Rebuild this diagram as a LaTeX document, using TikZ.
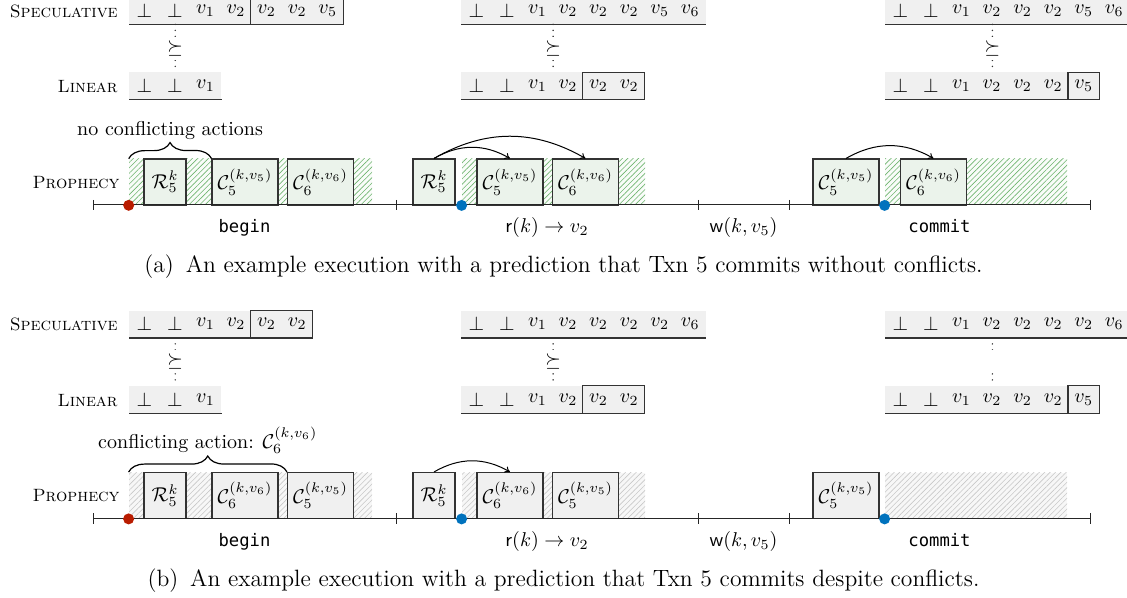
\documentclass[tikz,border=0pt]{standalone}
\usepackage{fontspec}
\setmonofont{DejaVu Sans Mono}[Scale=0.86]
\usetikzlibrary{patterns.meta,decorations.pathreplacing,arrows.meta}
\definecolor{rowgray}{RGB}{240,240,240}
\definecolor{boxgreen}{RGB}{235,243,235}
\definecolor{hatchgreen}{RGB}{110,180,110}
\definecolor{hatchbgG}{RGB}{249,252,249}
\definecolor{boxgray}{RGB}{240,240,240}
\definecolor{hatchgray}{RGB}{200,200,200}
\definecolor{hatchbgK}{RGB}{247,247,247}
\definecolor{dotred}{RGB}{185,28,0}
\definecolor{dotblue}{RGB}{0,114,189}
\newcommand\MyRow[5]{%
  \node[rowbg, minimum width=#4*15.285pt] (#1) at (#2,#3) {};
  \draw[rowline] (#1.south west) -- (#1.south east);
  \foreach \vv [count=\ii] in {#5} {\node[cell] (#1-\ii) at ([xshift={(\ii-0.5)*15.285pt}]#1.west) {$\vv$};}
}
\newcommand\MyLink[4]{%
  \draw[dotline] (#1.south -| #2.north) -- node[relsym] (#3) {#4} (#2.north);
}
\begin{document}
\begin{tikzpicture}[x=0.5pt,y=-0.5pt, font=\fontsize{10}{12}\selectfont,
  rowbg/.style={fill=rowgray, draw=none, minimum height=13.5pt, inner sep=0pt, anchor=west},
  rowline/.style={draw=black!80, line width=0.6pt},
  cell/.style={inner sep=0pt, minimum width=15.285pt, minimum height=13.5pt},
  hl/.style={draw=black!80, line width=0.55pt},
  lbl/.style={anchor=east, inner sep=0pt, font=\fontsize{8.9}{11}\selectfont},
  dotline/.style={line width=0.8pt, dash pattern=on 0pt off 3pt, line cap=round, draw=black!80},
  relsym/.style={fill=white, inner sep=2pt},
  hatchG/.style={draw=none, minimum height=23pt, inner sep=0pt, preaction={fill=hatchbgG}, pattern={Lines[angle=45,distance=1.9pt,line width=0.3pt]}, pattern color=hatchgreen},
  hatchK/.style={draw=none, minimum height=23pt, inner sep=0pt, preaction={fill=hatchbgK}, pattern={Lines[angle=45,distance=1.9pt,line width=0.3pt]}, pattern color=hatchgray},
  pboxG/.style={draw=black!80, line width=0.55pt, minimum height=23pt, inner sep=0pt, fill=boxgreen},
  pboxK/.style={draw=black!80, line width=0.55pt, minimum height=23pt, inner sep=0pt, fill=boxgray},
  rbox/.style={minimum width=21pt},
  cbox/.style={minimum width=33pt},
  tl/.style={draw=black!85, line width=0.5pt},
  tlab/.style={anchor=base, inner sep=0pt},
  pdot/.style={circle, inner sep=0pt, minimum size=5.5pt, draw=none},
  arr/.style={-{To[length=2.6pt,width=3.4pt]}, line width=0.5pt, draw=black},
  brace/.style={decorate, decoration={brace, amplitude=8pt}, line width=0.6pt, draw=black},
  captext/.style={anchor=base, inner sep=0pt, font=\fontsize{11.8}{14}\selectfont}
]
\useasboundingbox (0,0) rectangle (1127,598);

%% ================= panel (a) =================
\MyRow{sa1}{129}{10.5}{7}{\bot,\bot,v_1,v_2,v_2,v_2,v_5}
\draw[hl] (sa1-5.north west) rectangle (sa1-7.south east);
\MyRow{la1}{129}{86}{3}{\bot,\bot,v_1}
\MyRow{sa2}{461}{10.5}{8}{\bot,\bot,v_1,v_2,v_2,v_2,v_5,v_6}
\MyRow{la2}{461}{86}{6}{\bot,\bot,v_1,v_2,v_2,v_2}
\draw[hl] (la2-5.north west) rectangle (la2-6.south east);
\MyRow{sa3}{885}{10.5}{8}{\bot,\bot,v_1,v_2,v_2,v_2,v_5,v_6}
\MyRow{la3}{885}{86}{7}{\bot,\bot,v_1,v_2,v_2,v_2,v_5}
\draw[hl] (la3-7.north west) rectangle (la3-7.south east);
\MyLink{sa1}{la1}{ra1}{$\succeq$}
\MyLink{sa2}{la2}{ra2}{$\succeq$}
\MyLink{sa3}{la3}{ra3}{$\succeq$}
\node[lbl] (tsa) at (118,11) {\textsc{Speculative}};
\node[lbl] (tla) at (118,87) {\textsc{Linear}};
\node[lbl] (tpa) at (120,182.5) {\textsc{Prophecy}};

\node[hatchG, minimum width=121.5pt] (ha1) at (250.5,182) {};
\node[hatchG, minimum width=91.5pt] (ha2) at (553.5,182) {};
\node[hatchG, minimum width=91pt] (ha3) at (976,182) {};
\node[pboxG, rbox] (ar1) at (165,182) {$\mathcal{R}^k_5$};
\node[pboxG, cbox] (ac51) at (245,182) {$\mathcal{C}^{(k,v_5)}_5$};
\node[pboxG, cbox] (ac61) at (320.5,182) {$\mathcal{C}^{(k,v_6)}_6$};
\node[pboxG, rbox] (ar2) at (434,182) {$\mathcal{R}^k_5$};
\node[pboxG, cbox] (ac52) at (510,182) {$\mathcal{C}^{(k,v_5)}_5$};
\node[pboxG, cbox] (ac62) at (585.5,182) {$\mathcal{C}^{(k,v_6)}_6$};
\node[pboxG, cbox] (ac53) at (846,182) {$\mathcal{C}^{(k,v_5)}_5$};
\node[pboxG, cbox] (ac63) at (933.5,182) {$\mathcal{C}^{(k,v_6)}_6$};

\coordinate (ta0) at (93,205);
\coordinate (ta1) at (396,205);
\coordinate (ta2) at (698,205);
\coordinate (ta3) at (789,205);
\coordinate (ta4) at (1090,205);
\draw[tl] (ta0) -- (ta4);
\foreach \c in {ta0,ta1,ta2,ta3,ta4} {\draw[tl] ([yshift=2.6pt]\c) -- ([yshift=-2.6pt]\c);}
\node[tlab] (lba) at (244.5,233) {\texttt{begin}};
\node[tlab] (lra) at (547,233) {$\mathsf{r}(k) \to v_2$};
\node[tlab] (lwa) at (743.5,233) {$\mathsf{w}(k, v_5)$};
\node[tlab] (lca) at (939.5,233) {\texttt{commit}};
\node[pdot, fill=dotred] (da1) at (ha1.south west) {};
\node[pdot, fill=dotblue] (da2) at (ha2.south west) {};
\node[pdot, fill=dotblue] (da3) at (ha3.south west) {};

\draw[arr] (ar2.north) to[bend left=30] (ac52.north);
\draw[arr] (ar2.north) to[bend left=30] (ac62.north);
\draw[arr] (ac53.north) to[bend left=30] (ac63.north);
\draw[brace] (ha1.north west) -- node[midway, above=9pt, inner sep=0pt] (bla) {no conflicting actions} (ac51.north west);

\node[captext] (capa) at (563.5,272.5) {(a)\hspace{0.5em}An example execution with a prediction that Txn 5 commits without conflicts.};

%% ================= panel (b) =================
\MyRow{sb1}{129}{324}{6}{\bot,\bot,v_1,v_2,v_2,v_2}
\draw[hl] (sb1-5.north west) rectangle (sb1-6.south east);
\MyRow{lb1}{129}{399.5}{3}{\bot,\bot,v_1}
\MyRow{sb2}{461}{324}{8}{\bot,\bot,v_1,v_2,v_2,v_2,v_2,v_6}
\MyRow{lb2}{461}{399.5}{6}{\bot,\bot,v_1,v_2,v_2,v_2}
\draw[hl] (lb2-5.north west) rectangle (lb2-6.south east);
\MyRow{sb3}{885}{324}{8}{\bot,\bot,v_1,v_2,v_2,v_2,v_2,v_6}
\MyRow{lb3}{885}{399.5}{7}{\bot,\bot,v_1,v_2,v_2,v_2,v_5}
\draw[hl] (lb3-7.north west) rectangle (lb3-7.south east);
\MyLink{sb1}{lb1}{rb1}{$\succeq$}
\MyLink{sb2}{lb2}{rb2}{$\succeq$}
\MyLink{sb3}{lb3}{rb3}{$\phantom{\succeq}$}
\node[lbl] (tsb) at (118,324.5) {\textsc{Speculative}};
\node[lbl] (tlb) at (118,400.5) {\textsc{Linear}};
\node[lbl] (tpb) at (120,496) {\textsc{Prophecy}};

\node[hatchK, minimum width=121.5pt] (hb1) at (250.5,495.5) {};
\node[hatchK, minimum width=91.5pt] (hb2) at (553.5,495.5) {};
\node[hatchK, minimum width=91pt] (hb3) at (976,495.5) {};
\node[pboxK, rbox] (br1) at (165,495.5) {$\mathcal{R}^k_5$};
\node[pboxK, cbox] (bc61) at (245,495.5) {$\mathcal{C}^{(k,v_6)}_6$};
\node[pboxK, cbox] (bc51) at (320.5,495.5) {$\mathcal{C}^{(k,v_5)}_5$};
\node[pboxK, rbox] (br2) at (434,495.5) {$\mathcal{R}^k_5$};
\node[pboxK, cbox] (bc62) at (510,495.5) {$\mathcal{C}^{(k,v_6)}_6$};
\node[pboxK, cbox] (bc52) at (585.5,495.5) {$\mathcal{C}^{(k,v_5)}_5$};
\node[pboxK, cbox] (bc53) at (846,495.5) {$\mathcal{C}^{(k,v_5)}_5$};

\coordinate (tb0) at (93,518.5);
\coordinate (tb1) at (396,518.5);
\coordinate (tb2) at (698,518.5);
\coordinate (tb3) at (789,518.5);
\coordinate (tb4) at (1090,518.5);
\draw[tl] (tb0) -- (tb4);
\foreach \c in {tb0,tb1,tb2,tb3,tb4} {\draw[tl] ([yshift=2.6pt]\c) -- ([yshift=-2.6pt]\c);}
\node[tlab] (lbb) at (244.5,546.5) {\texttt{begin}};
\node[tlab] (lrb) at (547,546.5) {$\mathsf{r}(k) \to v_2$};
\node[tlab] (lwb) at (743.5,546.5) {$\mathsf{w}(k, v_5)$};
\node[tlab] (lcb) at (939.5,546.5) {\texttt{commit}};
\node[pdot, fill=dotred] (db1) at (hb1.south west) {};
\node[pdot, fill=dotblue] (db2) at (hb2.south west) {};
\node[pdot, fill=dotblue] (db3) at (hb3.south west) {};

\draw[arr] (br2.north) to[bend left=30] (bc62.north);
\draw[brace] (hb1.north west) -- node[midway, above=9pt, inner sep=0pt] (blb) {conflicting action: $\mathcal{C}_6^{(k,v_6)}$} (bc51.north west);

\node[captext] (capb) at (563.5,586) {(b)\hspace{0.5em}An example execution with a prediction that Txn 5 commits despite conflicts.};
\end{tikzpicture}
\end{document}
